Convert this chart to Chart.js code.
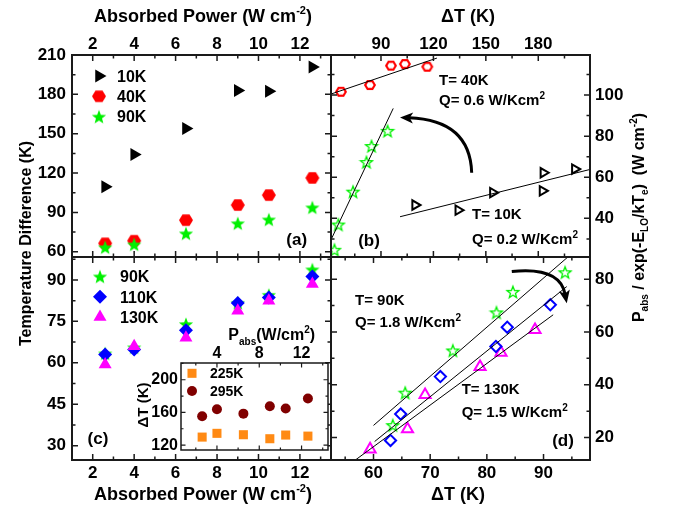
<!DOCTYPE html>
<html>
<head>
<meta charset="utf-8">
<script src="https://cdn.jsdelivr.net/npm/chart.js@4.4.1/dist/chart.umd.min.js"></script>
<style>
  html, body { margin: 0; padding: 0; background: #fff; }
  #wrap { position: relative; width: 673px; height: 510px; }
  #wrap canvas { position: absolute; left: 0; top: 0; }
</style>
</head>
<body>
<div id="wrap">
  <canvas id="pa" width="673" height="510"></canvas>
  <canvas id="pb" width="673" height="510"></canvas>
  <canvas id="pc" width="673" height="510"></canvas>
  <canvas id="pd" width="673" height="510"></canvas>
  <canvas id="pi" width="673" height="510"></canvas>
</div>
<script>
// absorbed power (W cm-2), shared by panels (a), (c) and the inset
const power = [2.6, 4.0, 6.5, 9.0, 10.5, 12.6];

// temperature difference (K) vs absorbed power
const dT10 = [109.5, 134.2, 154.0, 182.9, 182.4, 200.9];
const dT40 = [66.4, 68.4, 84.1, 95.6, 103.2, 116.3];
const dT90 = [63.4, 65.6, 74.0, 81.7, 84.6, 93.8];
const dT110 = [63.0, 64.8, 71.8, 81.6, 83.6, 91.2];
const dT130 = [59.4, 66.0, 69.1, 78.8, 82.5, 88.5];
const dT225 = [129.8, 134.4, 132.7, 127.8, 132.3, 131.0];
const dT295 = [155.3, 163.9, 158.5, 167.6, 164.7, 177.0];

// P_abs / exp(-E_LO/kT_e) (W cm-2) vs delta T
const dT40b = [67.1, 83.7, 95.7, 103.7, 116.5];
const norm40 = [101.6, 104.9, 114.3, 115.1, 113.8];
const norm10 = [46.5, 44.0, 52.5, 62.2, 53.4, 64.0];
const norm90 = [24.7, 37.0, 53.0, 67.4, 75.2, 82.6];
const norm110 = [18.9, 28.9, 43.1, 54.5, 61.8, 70.3];
const norm130 = [15.6, 23.2, 36.2, 46.8, 52.2, 60.8];

// linear fits (end points)
const fit40x = [61.4, 122], fit40y = [100.5, 118];
const fit90bx = [61.8, 97.0], fit90by = [30.3, 93.5];
const fit10x = [100.9, 209.6], fit10y = [40.8, 63.8];
const fit90dx = [60, 94.4], fit90dy = [24.6, 88.6];
const fit110x = [60.2, 94.1], fit110y = [18.5, 77.2];
const fit130x = [56.8, 91.7], fit130y = [11.5, 66.5];

// curved arrows: start, control, end (data units)
const arrowB = [[141.9, 62.2], [140.9, 87.8], [100.9, 89.1]];
const arrowD = [[84.4, 82.9], [92.9, 84.8], [94.1, 70.9]];

// tick labels
const powerTicks = [2, 4, 6, 8, 10, 12];
const aTicks = [60, 90, 120, 150, 180, 210];
const cTicks = [30, 45, 60, 75, 90];
const bTopTicks = [90, 120, 150, 180];
const bRightTicks = [40, 60, 80, 100];
const dBottomTicks = [60, 70, 80, 90];
const dRightTicks = [20, 40, 60, 80];
const insetXTicks = [4, 8, 12];
const insetYTicks = [120, 160, 200];

const FONT = '"Liberation Sans", Arial, sans-serif';
Chart.defaults.font.family = FONT;
Chart.defaults.font.weight = 'bold';
Chart.defaults.font.size = 17;
Chart.defaults.color = '#000';

const GREEN = '#00f000', RED = '#ff0000', BLUE = '#0000ff', MAG = '#ff00ff';

function shape(kind, size, r, fill, stroke, lw) {
  const c = document.createElement('canvas');
  c.width = c.height = size;
  const g = c.getContext('2d');
  const m = size / 2;
  g.beginPath();
  if (kind === 'hex') {
    for (let k = 0; k < 6; k++) {
      const a = Math.PI / 3 * k;
      g.lineTo(m + r * Math.cos(a), m + r * 0.95 * Math.sin(a));
    }
  } else {
    for (let k = 0; k < 10; k++) {
      const a = -Math.PI / 2 + Math.PI / 5 * k;
      const rr = k % 2 ? r * 0.42 : r;
      g.lineTo(m + rr * Math.cos(a), m + rr * Math.sin(a) + r * 0.1);
    }
  }
  g.closePath();
  if (fill) { g.fillStyle = fill; g.fill(); }
  if (stroke) { g.strokeStyle = stroke; g.lineWidth = lw; g.stroke(); }
  return c;
}
const hexFill = shape('hex', 16, 7, RED);
const hexOpen = shape('hex', 14, 4.8, null, RED, 2.2);
const starFill = shape('star', 18, 7.5, GREEN);
const starOpen = shape('star', 16, 6.2, null, GREEN, 1.3);

function pts(xs, ys) { return xs.map((x, i) => ({x: x, y: ys[i]})); }
function marks(xs, ys, style) {
  return Object.assign({data: pts(xs, ys), showLine: false, pointBorderWidth: 0}, style);
}
function fitLine(xs, ys) {
  return {data: pts(xs, ys), showLine: true, borderColor: '#000', borderWidth: 1, pointRadius: 0};
}

function axis(position, min, max, tickVals, size, pad, fontSize) {
  return {
    type: 'linear', position: position, min: min, max: max,
    grid: {display: false, drawTicks: false},
    border: {display: false},
    ticks: {padding: pad, autoSkip: false, maxRotation: 0, font: {size: fontSize || 17, weight: 'bold'}, color: '#000'},
    afterBuildTicks: s => { s.ticks = tickVals.map(v => ({value: v})); },
    afterFit: s => {
      if (s.isHorizontal()) s.height = size; else s.width = size;
      s.paddingLeft = s.paddingRight = s.paddingTop = s.paddingBottom = 0;
    }
  };
}

function drawFrame(chart, f) {
  const ctx = chart.ctx, a = chart.chartArea, x = chart.scales.x, y = chart.scales.y;
  ctx.save();
  ctx.strokeStyle = '#1a1a1a';
  ctx.lineWidth = f.tw;
  ctx.beginPath();
  const tickMarks = (scale, step, len) => {
    for (let k = Math.ceil((scale.min + 0.01) / step); k * step < scale.max - 0.01; k++) {
      const p = scale.getPixelForValue(k * step);
      if (scale.isHorizontal()) {
        ctx.moveTo(p, a.top); ctx.lineTo(p, a.top + len);
        ctx.moveTo(p, a.bottom); ctx.lineTo(p, a.bottom - len);
      } else {
        ctx.moveTo(a.left, p); ctx.lineTo(a.left + len, p);
        ctx.moveTo(a.right, p); ctx.lineTo(a.right - len, p);
      }
    }
  };
  tickMarks(x, f.xMinor, f.minor); tickMarks(x, f.xMajor, f.major);
  tickMarks(y, f.yMinor, f.minor); tickMarks(y, f.yMajor, f.major);
  ctx.stroke();
  ctx.lineWidth = f.bw;
  ctx.strokeRect(a.left, a.top, a.right - a.left, a.bottom - a.top);
  ctx.restore();
}

// parts: [text, ''|'sub'|'sup'], y is the baseline
function rich(ctx, parts, x, y, size, align, small) {
  small = small || Math.round(size * 0.65);
  const fontOf = m => 'bold ' + (m ? small : size) + 'px ' + FONT;
  let w = 0;
  parts.forEach(p => { ctx.font = fontOf(p[1]); w += ctx.measureText(p[0]).width; });
  let cx = align === 'center' ? x - w / 2 : x;
  ctx.textAlign = 'left';
  ctx.textBaseline = 'alphabetic';
  ctx.fillStyle = '#000';
  parts.forEach(p => {
    ctx.font = fontOf(p[1]);
    const dy = p[1] === 'sup' ? -size * 0.42 : p[1] === 'sub' ? size * 0.3 : 0;
    ctx.fillText(p[0], cx, y + dy);
    cx += ctx.measureText(p[0]).width;
  });
}
function richRot(ctx, parts, x, y, size, small) {
  ctx.save();
  ctx.translate(x, y);
  ctx.rotate(-Math.PI / 2);
  rich(ctx, parts, 0, 0, size, 'center', small);
  ctx.restore();
}
function label(ctx, text, x, yMid, size, align) {
  rich(ctx, [[text, '']], x, yMid + size * 0.36, size, align);
}

function drawLegend(chart, items, mx, tx, y0, dy, size) {
  const ctx = chart.ctx;
  items.forEach((it, k) => {
    const o = chart.getDatasetMeta(it[0]).data[0].options;
    const y = y0 + k * dy;
    ctx.save();
    ctx.fillStyle = o.backgroundColor;
    ctx.strokeStyle = o.borderColor;
    ctx.lineWidth = o.borderWidth;
    Chart.helpers.drawPoint(ctx, o, mx, y);
    ctx.restore();
    label(ctx, it[1], tx, y, size, 'left');
  });
}

function drawArrow(chart, pts3) {
  const ctx = chart.ctx, xs = chart.scales.x, ys = chart.scales.y;
  const P = p => [xs.getPixelForValue(p[0]), ys.getPixelForValue(p[1])];
  const s = P(pts3[0]), c = P(pts3[1]), e = P(pts3[2]);
  const ang = Math.atan2(e[1] - c[1], e[0] - c[0]);
  const hl = 13, hw = 5.5;
  const cos = Math.cos(ang), sin = Math.sin(ang);
  ctx.save();
  ctx.strokeStyle = '#000'; ctx.fillStyle = '#000'; ctx.lineWidth = 3;
  ctx.beginPath();
  ctx.moveTo(s[0], s[1]);
  ctx.quadraticCurveTo(c[0], c[1], e[0] - cos * hl * 0.7, e[1] - sin * hl * 0.7);
  ctx.stroke();
  ctx.beginPath();
  ctx.moveTo(e[0], e[1]);
  ctx.lineTo(e[0] - cos * hl - sin * hw, e[1] - sin * hl + cos * hw);
  ctx.lineTo(e[0] - cos * hl * 0.75, e[1] - sin * hl * 0.75);
  ctx.lineTo(e[0] - cos * hl + sin * hw, e[1] - sin * hl - cos * hw);
  ctx.closePath();
  ctx.fill();
  ctx.restore();
}

function panel(id, pad, xAxis, yAxis, datasets, frame, deco, before) {
  return new Chart(document.getElementById(id), {
    type: 'scatter',
    data: {datasets: datasets},
    options: {
      responsive: false, animation: false, events: [], devicePixelRatio: 1,
      layout: {padding: pad},
      plugins: {legend: {display: false}, tooltip: {enabled: false}},
      scales: {x: xAxis, y: yAxis}
    },
    plugins: [{
      id: 'deco_' + id,
      beforeDraw(chart) { if (before) before(chart); },
      afterDraw(chart) { drawFrame(chart, frame); deco(chart, chart.ctx); }
    }]
  });
}

const mainFrame = (xMajor, xMinor, yMajor, yMinor) =>
  ({xMajor: xMajor, xMinor: xMinor, yMajor: yMajor, yMinor: yMinor, major: 6, minor: 3.5, tw: 1.5, bw: 2});

const wcm = [['Absorbed Power (W cm', ''], ['-2', 'sup'], [')', '']];

// panel (a)
panel('pa', {left: 0, top: 0, right: 342, bottom: 253},
  axis('top', 1, 13.5, powerTicks, 55, 0),
  axis('left', 56, 210, aTicks, 72, 6),
  [
    marks(power, dT90, {pointStyle: starFill, pointRadius: 7}),
    marks(power, dT40, {pointStyle: hexFill, pointRadius: 7}),
    marks(power, dT10, {pointStyle: 'triangle', pointRotation: 90, pointRadius: 7.5,
      pointBackgroundColor: '#000', pointBorderColor: '#000'})
  ],
  mainFrame(2, 1, 30, 15),
  (chart, ctx) => {
    drawLegend(chart, [[2, '10K'], [1, '40K'], [0, '90K']], 99, 117, 76, 20.3, 16);
    label(ctx, '(a)', 296.7, 239.3, 17, 'center');
    rich(ctx, wcm, 203, 22, 18, 'center', 11);
    richRot(ctx, [['Temperature Difference (K)', '']], 30.5, 243.5, 16);
  });

// panel (b)
panel('pb', {left: 331, top: 0, right: 0, bottom: 253},
  axis('top', 61.4, 209.6, bTopTicks, 55, 0),
  axis('right', 21.2, 119.5, bRightTicks, 83, 5),
  [
    fitLine(fit40x, fit40y),
    fitLine(fit90bx, fit90by),
    fitLine(fit10x, fit10y),
    marks(dT40b, norm40, {pointStyle: hexOpen, pointRadius: 6}),
    marks(dT90, norm90, {pointStyle: starOpen, pointRadius: 6}),
    marks(dT10, norm10, {pointStyle: 'triangle', pointRotation: 90, pointRadius: 5.4,
      pointBackgroundColor: 'rgba(0,0,0,0)', pointBorderColor: '#000', pointBorderWidth: 2})
  ],
  mainFrame(30, 15, 20, 10),
  (chart, ctx) => {
    drawArrow(chart, arrowB);
    label(ctx, '(b)', 369, 240, 17, 'center');
    label(ctx, 'T= 40K', 439, 80, 15, 'left');
    rich(ctx, [['Q= 0.6 W/Kcm', ''], ['2', 'sup']], 439, 105.4, 15, 'left', 10);
    label(ctx, 'T= 10K', 472, 214, 15, 'left');
    rich(ctx, [['Q= 0.2 W/Kcm', ''], ['2', 'sup']], 472, 244.4, 15, 'left', 10);
    rich(ctx, [['\u0394T (K)', '']], 468, 22, 18, 'center');
    richRot(ctx, [['P', ''], ['abs', 'sub'], [' / exp(-E', ''], ['LO', 'sub'], ['/kT', ''], ['e', 'sub'],
      [')  (W cm', ''], ['-2', 'sup'], [')', '']], 643.5, 217.5, 16, 10);
  });

// panel (c)
panel('pc', {left: 0, top: 257, right: 342, bottom: 0},
  axis('bottom', 1, 13.5, powerTicks, 50, 3),
  axis('left', 24.8, 98.3, cTicks, 72, 6),
  [
    marks(power, dT130, {pointStyle: 'triangle', pointRadius: 7.5,
      pointBackgroundColor: MAG, pointBorderColor: MAG}),
    marks(power, dT110, {pointStyle: 'rectRot', pointRadius: 7,
      pointBackgroundColor: BLUE, pointBorderColor: BLUE}),
    marks(power, dT90, {pointStyle: starFill, pointRadius: 7})
  ],
  mainFrame(2, 1, 15, 7.5),
  (chart, ctx) => {
    drawLegend(chart, [[2, '90K'], [1, '110K'], [0, '130K']], 100, 120, 276.5, 20.3, 16);
    label(ctx, '(c)', 98, 438.3, 17, 'center');
    rich(ctx, wcm, 203, 500, 18, 'center', 11);
  });

// panel (d)
panel('pd', {left: 331, top: 257, right: 0, bottom: 0},
  axis('bottom', 52.5, 98.2, dBottomTicks, 50, 3),
  axis('right', 11.5, 88.4, dRightTicks, 83, 5),
  [
    fitLine(fit90dx, fit90dy),
    fitLine(fit110x, fit110y),
    fitLine(fit130x, fit130y),
    marks(dT90, norm90, {pointStyle: starOpen, pointRadius: 6}),
    marks(dT110, norm110, {pointStyle: 'rectRot', pointRadius: 5.6,
      pointBackgroundColor: 'rgba(0,0,0,0)', pointBorderColor: BLUE, pointBorderWidth: 2}),
    marks(dT130, norm130, {pointStyle: 'triangle', pointRadius: 6.4,
      pointBackgroundColor: 'rgba(0,0,0,0)', pointBorderColor: MAG, pointBorderWidth: 2})
  ],
  mainFrame(10, 5, 20, 10),
  (chart, ctx) => {
    drawArrow(chart, arrowD);
    label(ctx, '(d)', 563, 440, 17, 'center');
    label(ctx, 'T= 90K', 355, 300, 15, 'left');
    rich(ctx, [['Q= 1.8 W/Kcm', ''], ['2', 'sup']], 355, 327, 15, 'left', 10);
    label(ctx, 'T= 130K', 461.7, 388.3, 15, 'left');
    rich(ctx, [['Q= 1.5 W/Kcm', ''], ['2', 'sup']], 461.7, 417, 15, 'left', 10);
    rich(ctx, [['\u0394T (K)', '']], 458, 500, 18, 'center');
  });

// inset
panel('pi', {left: 141, top: 333, right: 345, bottom: 60},
  axis('top', 0.6, 14.5, insetXTicks, 30, 0, 16),
  axis('left', 114, 220.5, insetYTicks, 40, 3, 16),
  [
    marks(power, dT225, {pointStyle: 'rect', pointRadius: 6.4,
      pointBackgroundColor: '#ff8a14', pointBorderColor: '#ff8a14'}),
    marks(power, dT295, {pointStyle: 'circle', pointRadius: 5,
      pointBackgroundColor: '#800000', pointBorderColor: '#800000'})
  ],
  {xMajor: 4, xMinor: 2, yMajor: 40, yMinor: 20, major: 4.5, minor: 2.5, tw: 1.2, bw: 1.5},
  (chart, ctx) => {
    drawLegend(chart, [[0, '225K'], [1, '295K']], 192, 210, 373.3, 17.7, 14);
    rich(ctx, [['P', ''], ['abs', 'sub'], ['(W/cm', ''], ['2', 'sup'], [')', '']], 228.3, 340, 16, 'left', 10);
    richRot(ctx, [['\u0394T (K)', '']], 148, 405, 15);
  },
  chart => {
    const a = chart.chartArea;
    chart.ctx.save();
    chart.ctx.fillStyle = '#fff';
    chart.ctx.fillRect(a.left, a.top, a.right - a.left, a.bottom - a.top);
    chart.ctx.restore();
  });
</script>
</body>
</html>
